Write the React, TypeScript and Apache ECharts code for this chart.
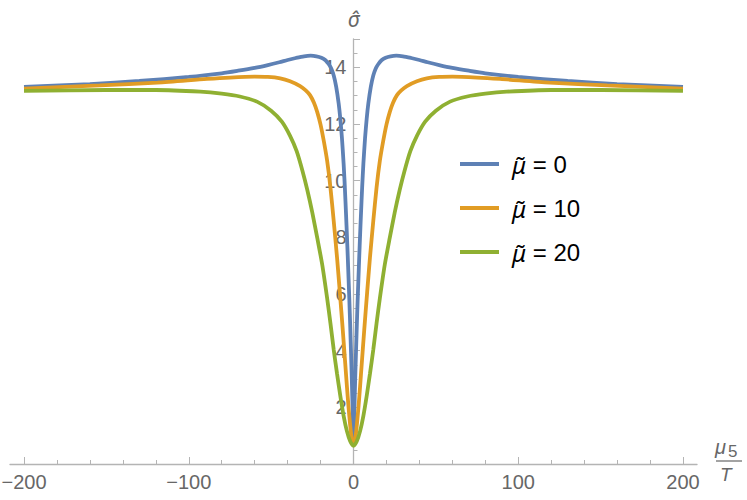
import React, { useEffect, useRef } from "react";
import * as echarts from "echarts";

// x positions (μ5/T) and σ̂ values
const blueX = [-200, -160, -130, -100, -80, -70, -60, -52, -45, -40, -35, -30, -26, -22.5, -19.5, -17, -15, -13.5, -12, -10.5, -9, -8, -7, -6, -5.25, -4.5, -4, -3.5, -3, -2.5, -2, -1.5, -1, -0.5, 0, 0.5, 1, 1.5, 2, 2.5, 3, 3.5, 4, 4.5, 5.25, 6, 7, 8, 9, 10.5, 12, 13.5, 15, 17, 19.5, 22.5, 26, 30, 35, 40, 45, 52, 60, 70, 80, 100, 130, 160, 200];
const blueY = [13.31, 13.41, 13.52, 13.66, 13.79, 13.88, 13.98, 14.08, 14.18, 14.26, 14.33, 14.39, 14.41, 14.39, 14.34, 14.25, 14.11, 13.96, 13.71, 13.31, 12.72, 12.18, 11.49, 10.6, 9.76, 8.77, 8.08, 7.34, 6.55, 5.76, 4.87, 3.93, 2.94, 1.85, 0.72, 1.85, 2.94, 3.93, 4.87, 5.76, 6.55, 7.34, 8.08, 8.77, 9.76, 10.6, 11.49, 12.18, 12.72, 13.31, 13.71, 13.96, 14.11, 14.25, 14.34, 14.39, 14.41, 14.39, 14.33, 14.26, 14.18, 14.08, 13.98, 13.88, 13.79, 13.66, 13.52, 13.41, 13.31];

const orangeX = [-200, -154, -119, -89, -75, -60, -52, -44.5, -38.5, -32.4, -29, -26.4, -24, -22, -20, -18, -16, -14, -12, -10, -8.3, -6.5, -5, -4, -3, -2, -1, 0, 1, 2, 3, 4, 5, 6.5, 8.3, 10, 12, 14, 16, 18, 20, 22, 24, 26.4, 29, 32.4, 38.5, 44.5, 52, 60, 75, 89, 119, 154, 200];
const orangeY = [13.25, 13.36, 13.46, 13.59, 13.64, 13.67, 13.66, 13.61, 13.51, 13.34, 13.19, 13.02, 12.75, 12.42, 11.98, 11.39, 10.7, 9.76, 8.57, 7.29, 6.07, 4.72, 3.53, 2.74, 2.0, 1.36, 0.86, 0.67, 0.86, 1.36, 2.0, 2.74, 3.53, 4.72, 6.07, 7.29, 8.57, 9.76, 10.7, 11.39, 11.98, 12.42, 12.75, 13.02, 13.19, 13.34, 13.51, 13.61, 13.66, 13.67, 13.64, 13.59, 13.46, 13.36, 13.25];

const greenX = [-200, -150, -120, -93, -80, -69, -58.6, -50, -43.5, -38.5, -34.5, -31, -28, -25, -22, -19, -16, -14, -12, -10, -8, -6, -4, -2, 0, 2, 4, 6, 8, 10, 12, 14, 16, 19, 22, 25, 28, 31, 34.5, 38.5, 43.5, 50, 58.6, 69, 80, 93, 120, 150, 200];
const greenY = [13.17, 13.2, 13.2, 13.14, 13.07, 12.97, 12.79, 12.47, 12.08, 11.58, 11.04, 10.35, 9.66, 8.87, 7.98, 7.04, 5.85, 4.97, 4.03, 3.19, 2.4, 1.7, 1.16, 0.8, 0.64, 0.8, 1.16, 1.7, 2.4, 3.19, 4.03, 4.97, 5.85, 7.04, 7.98, 8.87, 9.66, 10.35, 11.04, 11.58, 12.08, 12.47, 12.79, 12.97, 13.07, 13.14, 13.2, 13.2, 13.17];

const seriesNames = ["μ̃ = 0", "μ̃ = 10", "μ̃ = 20"];
const seriesColors = ["#5E81B5", "#E19C24", "#8FB032"];
const xTicks = { min: -200, max: 200, interval: 100 };
const yTicks = { min: 0, max: 15, major: 2, minor: 0.5 };

const pairs = (xs: number[], ys: number[]) => xs.map((x, i) => [x, ys[i]]);

const AXIS = "#b4b4b4";
const LABEL = "#676767";
const FONT = "'Liberation Sans', Arial, sans-serif";
const MATH = "'Noto Sans', 'DejaVu Sans', sans-serif";

export default function App() {
  const ref = useRef<HTMLDivElement>(null);
  useEffect(() => {
    if (!ref.current) return;
    const chart = echarts.init(ref.current, null, { renderer: "svg" });
    const data = [pairs(blueX, blueY), pairs(orangeX, orangeY), pairs(greenX, greenY)];
    const gridBase = { top: 39, bottom: 36, outerBoundsMode: "none", containLabel: false };
    chart.setOption({
      animation: false,
      backgroundColor: "#fff",
      textStyle: { fontFamily: FONT },
      grid: [
        { ...gridBase, left: 24, right: 64 },
        { ...gridBase, left: 10, right: 50 },
        { ...gridBase, left: 353.5, right: 293.5 },
      ],
      xAxis: [
        {
          type: "value",
          gridIndex: 0,
          min: xTicks.min,
          max: xTicks.max,
          interval: xTicks.interval,
          axisLine: { show: false },
          axisTick: { show: true, inside: true, length: 7, lineStyle: { color: AXIS, width: 1 } },
          minorTick: { show: true, splitNumber: 5, length: 4, lineStyle: { color: AXIS, width: 1 } },
          axisLabel: {
            fontSize: 20,
            color: LABEL,
            margin: 8,
            fontFamily: FONT,
            formatter: (v: number) => String(v).replace("-", "\u2212"),
          },
          splitLine: { show: false },
        },
        {
          type: "value",
          gridIndex: 1,
          min: -208.5,
          max: 208.5,
          axisLine: { show: true, onZero: false, lineStyle: { color: AXIS, width: 1.3 } },
          axisTick: { show: false },
          axisLabel: { show: false },
          splitLine: { show: false },
        },
        { type: "value", gridIndex: 2, min: 0, max: 1, show: false },
      ],
      yAxis: [
        { type: "value", gridIndex: 0, min: yTicks.min, max: yTicks.max, show: false },
        { type: "value", gridIndex: 1, min: yTicks.min, max: yTicks.max, show: false },
        {
          type: "value",
          gridIndex: 2,
          position: "left",
          min: yTicks.min,
          max: yTicks.max,
          interval: yTicks.minor,
          axisLine: { show: true, onZero: false, lineStyle: { color: AXIS, width: 1.3 } },
          axisTick: { show: true, inside: true, length: 4, lineStyle: { color: AXIS, width: 1 } },
          axisLabel: {
            fontSize: 20,
            color: LABEL,
            margin: 7,
            fontFamily: FONT,
            formatter: (v: number) => (v % yTicks.major === 0 && v !== 0 ? String(v) : ""),
          },
          splitLine: { show: false },
          name: "σ̂",
          nameLocation: "end",
          nameGap: 10,
          nameTextStyle: { fontSize: 21, color: LABEL, fontStyle: "italic", fontFamily: MATH, align: "center" },
        },
        {
          type: "value",
          gridIndex: 2,
          position: "left",
          min: yTicks.min,
          max: yTicks.max,
          interval: yTicks.major,
          axisLine: { show: false, onZero: false },
          axisTick: { show: true, inside: true, length: 6.5, lineStyle: { color: AXIS, width: 1 } },
          axisLabel: { show: false },
          splitLine: { show: false },
        },
      ],
      legend: {
        data: seriesNames,
        orient: "vertical",
        left: 460,
        top: 150,
        padding: 0,
        itemGap: 16,
        itemWidth: 39,
        itemHeight: 4,
        icon: "rect",
        formatter: (name: string) => {
          const parts = name.split(" = ");
          return "{m|" + parts[0] + "}{t| = " + parts[1] + "}";
        },
        textStyle: {
          fontSize: 24,
          color: "#000",
          lineHeight: 28,
          rich: {
            m: { fontSize: 24, fontStyle: "italic", color: "#000", fontFamily: MATH, lineHeight: 28, padding: [0, 0, 0, 8] },
            t: { fontSize: 24, color: "#000", fontFamily: FONT, lineHeight: 28 },
          },
        },
      },
      graphic: [
        { type: "text", left: 715, top: 437, style: { text: "μ", font: "italic 20px " + FONT, fill: LABEL } },
        { type: "text", left: 728, top: 443, style: { text: "5", font: "17px " + FONT, fill: LABEL } },
        { type: "line", shape: { x1: 716, y1: 461, x2: 742, y2: 461 }, style: { stroke: LABEL, lineWidth: 1.2 } },
        { type: "text", left: 720, top: 465, style: { text: "T", font: "italic 19px " + FONT, fill: LABEL } },
      ],
      series: data.map((d, i) => ({
        name: seriesNames[i],
        type: "line",
        xAxisIndex: 0,
        yAxisIndex: 0,
        data: d,
        showSymbol: false,
        symbol: "none",
        smooth: 0.25,
        color: seriesColors[i],
        lineStyle: { color: seriesColors[i], width: 3.8 },
        itemStyle: { color: seriesColors[i] },
      })),
    });
    return () => chart.dispose();
  }, []);
  return <div ref={ref} style={{ position: "fixed", left: 0, top: 0, width: 747, height: 500 }} />;
}
